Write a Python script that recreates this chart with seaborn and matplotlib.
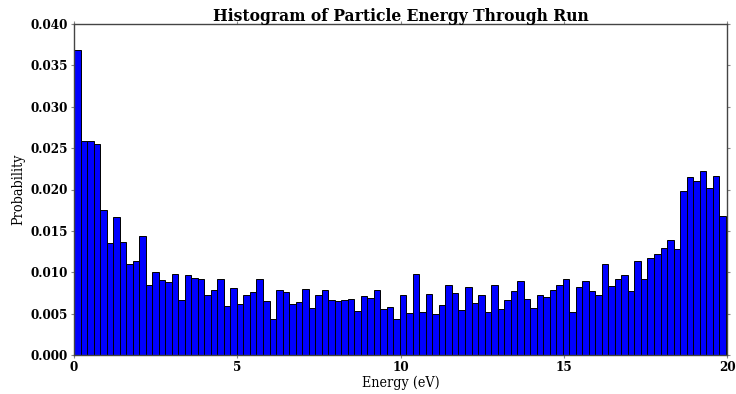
import numpy as np
import pandas as pd
import matplotlib
matplotlib.use("Agg")
import matplotlib.pyplot as plt
import seaborn as sns

# Per-bin probabilities of particle energy (100 bins)
probability = [
    0.0369, 0.0259, 0.0259, 0.0255, 0.0175, 0.0135, 0.0167, 0.0136, 0.0110, 0.0114,
    0.0144, 0.0084, 0.0100, 0.0091, 0.0088, 0.0098, 0.0067, 0.0097, 0.0093, 0.0092,
    0.0073, 0.0078, 0.0092, 0.0059, 0.0081, 0.0062, 0.0073, 0.0076, 0.0092, 0.0065,
    0.0044, 0.0078, 0.0076, 0.0062, 0.0064, 0.0080, 0.0057, 0.0073, 0.0079, 0.0066,
    0.0065, 0.0067, 0.0068, 0.0053, 0.0071, 0.0069, 0.0079, 0.0055, 0.0058, 0.0043,
    0.0072, 0.0051, 0.0098, 0.0052, 0.0074, 0.0050, 0.0060, 0.0085, 0.0075, 0.0054,
    0.0082, 0.0063, 0.0073, 0.0052, 0.0084, 0.0055, 0.0066, 0.0077, 0.0089, 0.0068,
    0.0057, 0.0073, 0.0070, 0.0078, 0.0085, 0.0092, 0.0052, 0.0082, 0.0089, 0.0077,
    0.0073, 0.0110, 0.0083, 0.0092, 0.0097, 0.0077, 0.0113, 0.0092, 0.0117, 0.0122,
    0.0129, 0.0139, 0.0128, 0.0198, 0.0215, 0.0210, 0.0222, 0.0202, 0.0216, 0.0168,
]
energy_min = 0.0
energy_max = 19.96
x_ticks = [0, 5, 10, 15, 20]
y_ticks = [0.000, 0.005, 0.010, 0.015, 0.020, 0.025, 0.030, 0.035, 0.040]

edges = np.linspace(energy_min, energy_max, len(probability) + 1)
df = pd.DataFrame({
    "energy": 0.5 * (edges[:-1] + edges[1:]),
    "probability": probability,
})

sns.set_style("ticks")
plt.rcParams["font.family"] = ["DejaVu Serif"]
plt.rcParams["font.stretch"] = "condensed"
plt.rcParams["text.color"] = "black"
plt.rcParams["axes.labelcolor"] = "black"

fig = plt.figure(figsize=(7.36, 3.94), dpi=100)
ax = fig.add_axes([74 / 736, 1 - 355 / 394, 653 / 736, 331 / 394])

sns.histplot(data=df, x="energy", weights="probability", bins=edges.tolist(),
             stat="count", color="blue", edgecolor="black", linewidth=0.7,
             alpha=1.0, ax=ax)

ax.set_xlim(0, 20)
ax.set_ylim(0, 0.040)
ax.set_xticks(x_ticks)
ax.set_yticks(y_ticks)
ax.set_xticklabels([str(t) for t in x_ticks], fontweight="bold", fontsize=9.6)
ax.set_yticklabels([f"{t:.3f}" for t in y_ticks], fontweight="bold", fontsize=9.6)
ax.tick_params(top=True, right=True, direction="out", length=2.2, width=0.8,
               pad=2.2, color="#888888", labelcolor="black")
for side in ["top", "right", "bottom", "left"]:
    ax.spines[side].set_visible(True)
    ax.spines[side].set_linewidth(1.0)
    ax.spines[side].set_color("#444444")

ax.set_xlabel("Energy (eV)", fontsize=10.3, labelpad=1)
ax.set_ylabel("Probability", fontsize=10.3)
ax.set_title("Histogram of Particle Energy Through Run", fontsize=12.4,
             fontweight="bold", pad=2)

fig.savefig("out.png", dpi=100)
